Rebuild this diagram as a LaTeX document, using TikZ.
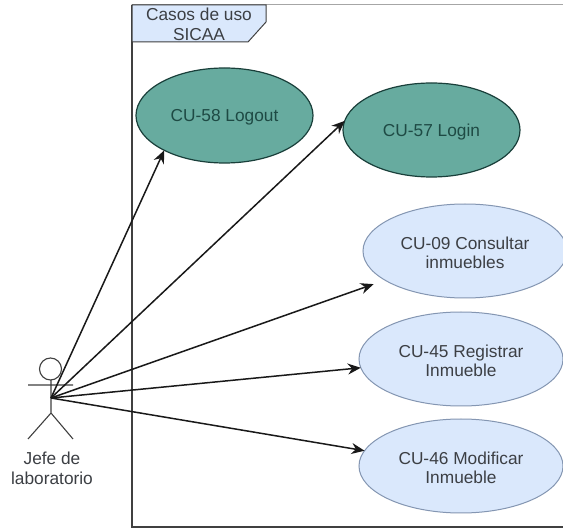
\documentclass[tikz,border=0pt]{standalone}
\usepackage{fontspec}
\setmainfont{Liberation Sans}
\usetikzlibrary{shapes.geometric,arrows.meta}
\definecolor{tealfill}{HTML}{67AB9F}
\definecolor{tealtext}{HTML}{1E4A44}
\definecolor{bluefill}{HTML}{DAE8FC}
\definecolor{blueline}{HTML}{8496B2}
\definecolor{softtext}{HTML}{3C3F44}
\newcommand{\lowerline}{\rule{0pt}{16pt}}
\tikzset{
  uc/.style={ellipse,draw,inner sep=0pt,outer sep=0pt,align=center,
    font=\fontsize{17.3}{19.5}\selectfont},
  uctealstyle/.style={uc,line width=1.2pt,fill=tealfill,draw=tealtext!85!black,text=tealtext},
  ucbluestyle/.style={uc,line width=1pt,fill=bluefill,draw=blueline,text=softtext},
  link/.style={line width=1.5pt,draw=black!90,-{Stealth[length=13pt,width=11pt]}},
  stick/.style={line width=1.1pt,draw=black!75},
  caption/.style={align=center,text=softtext,font=\fontsize{17.3}{19.5}\selectfont}
}
\begin{document}
\begin{tikzpicture}[x=1pt,y=-1pt]
\useasboundingbox (0,0) rectangle (563,529);
\fill[white] (0,0) rectangle (563,529);
\begin{scope}
\clip (0,0) rectangle (563,529);
% frame
\coordinate (frameTL) at (132,5);
\coordinate (frameTR) at (563,5);
\coordinate (frameBL) at (132,527);
\coordinate (frameBR) at (563,527);
\draw[line width=1pt,draw=black!35] (frameTL) -- (frameTR);
\draw[line width=1.3pt,draw=black!75] (frameTL) -- (frameBL) -- (frameBR);
\draw[line width=1pt,draw=black!75,fill=bluefill] (132,5) -- (266,5) -- (266,22) -- (248,42) -- (132,42) -- cycle;
\node[caption] (tab) at (199,24.5) {Casos de uso\\SICAA};
% use cases
\node[uctealstyle,minimum width=177pt,minimum height=95pt] (cu58) at (224.5,115.5) {\lowerline CU-58 Logout};
\node[uctealstyle,minimum width=177pt,minimum height=94pt] (cu57) at (431.5,130) {\lowerline CU-57 Login};
\node[ucbluestyle,minimum width=204pt,minimum height=94pt] (cu09) at (465,251) {\lowerline CU-09 Consultar\\inmuebles};
\node[ucbluestyle,minimum width=204pt,minimum height=94pt] (cu45) at (461,359) {\lowerline CU-45 Registrar\\Inmueble};
\node[ucbluestyle,minimum width=204pt,minimum height=94pt] (cu46) at (461,466) {\lowerline CU-46 Modificar\\Inmueble};
% actor
\node[circle,draw=black!75,line width=1.1pt,fill=white,minimum size=22pt,inner sep=0pt] (head) at (50.5,369) {};
\coordinate (neck) at (51,380);
\coordinate (hip) at (51,413);
\coordinate (armL) at (28,385);
\coordinate (armR) at (73,385);
\coordinate (footL) at (28,439);
\coordinate (footR) at (73,439);
\coordinate (actor) at (51,398);
\draw[stick] (neck) -- (hip) (armL) -- (armR) (footL) -- (hip) -- (footR);
\node[caption] (actorlabel) at (52,468.5) {Jefe de\\laboratorio};
% connectors
\draw[link] (actor) -- (cu58.210.7);
\draw[link] (actor) -- (cu57.174.7);
\draw[link,shorten >=12pt] (actor) -- (cu09.200.7);
\draw[link] (actor) -- (cu45.185.7);
\draw[link] (actor) -- (cu46.171.2);
\end{scope}
\end{tikzpicture}
\end{document}
